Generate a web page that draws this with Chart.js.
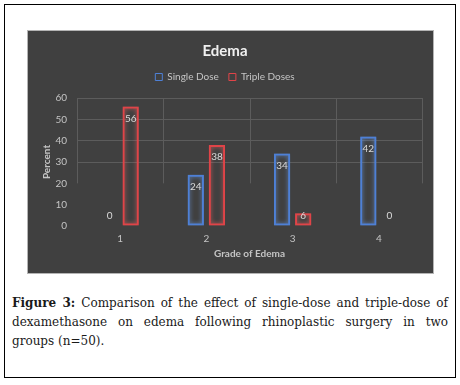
<!DOCTYPE html>
<html>
<head>
<meta charset="utf-8">
<script src="https://cdn.jsdelivr.net/npm/chart.js@4.4.1/dist/chart.umd.min.js"></script>
<style>
    html, body { margin: 0; padding: 0; background: #fff; }
    #frame {
        position: absolute; left: 4px; top: 4px;
        width: 452px; height: 374px;
        border: 1px solid #000; box-sizing: border-box;
    }
    #panel {
        position: absolute; left: 27px; top: 30px;
        width: 407px; height: 244px;
        background: #404040; border: 1px solid #b4b4b4; box-sizing: border-box;
    }
    #panel canvas { position: absolute; left: 0; top: 0; }
    #caption {
        position: absolute; left: 12px; top: 294px; width: 436px;
        font-family: "DejaVu Serif", serif; font-size: 12px; line-height: 19px; color: #1a1a1a;
    }
    #caption div { text-align: justify; text-align-last: justify; }
    #caption div.last { text-align-last: left; }
</style>
</head>
<body>
<div id="frame"></div>
<div id="panel"><canvas id="edema-chart" width="405" height="242"></canvas></div>
<div id="caption">
    <div><b>Figure 3:</b> Comparison of the effect of single-dose and triple-dose of</div>
    <div>dexamethasone on edema following rhinoplastic surgery in two</div>
    <div class="last">groups (n=50).</div>
</div>
<script>
// Chart data
const grades = ['1', '2', '3', '4'];
const singleDose = [0, 24, 34, 42];
const tripleDoses = [56, 38, 6, 0];
const yTicks = [0, 10, 20, 30, 40, 50, 60];

// Chart colors
const chartColors = {
    blue: 'rgb(78, 128, 214)',
    red: 'rgb(224, 68, 72)',
    text: '#c4c4c4',
    label: '#dadada',
    grid: '#5c5c5c'
};

const fontFamily = 'Lato, "Open Sans", sans-serif';

// Extra space under the legend so the plot starts lower
const legendGapPlugin = {
    id: 'legendGap',
    afterInit(chart) {
        const legend = chart.legend;
        if (!legend) return;
        const fit = legend.fit;
        legend.fit = function() {
            fit.call(this);
            this.height += 6;
        };
    }
};

// Soft glow around bars, like the Excel outline effect
const glowPlugin = {
    id: 'glow',
    beforeDatasetDraw(chart, args) {
        const ctx = chart.ctx;
        ctx.save();
        ctx.shadowColor = args.index === 0 ? 'rgba(110, 160, 240, 0.8)' : 'rgba(245, 100, 100, 0.8)';
        ctx.shadowBlur = 4;
    },
    afterDatasetDraw(chart) {
        chart.ctx.restore();
    }
};

// Vertical category dividers (only visible in the upper part of the plot)
const dividerPlugin = {
    id: 'dividers',
    beforeDatasetsDraw(chart) {
        const { ctx, chartArea, scales } = chart;
        const step = (chartArea.right - chartArea.left) / grades.length;
        const yEnd = scales.y.getPixelForValue(20);
        ctx.save();
        ctx.strokeStyle = chartColors.grid;
        ctx.lineWidth = 1;
        for (let i = 0; i <= grades.length; i++) {
            const x = Math.round(chartArea.left + i * step) + 0.5;
            ctx.beginPath();
            ctx.moveTo(x, chartArea.top);
            ctx.lineTo(x, yEnd);
            ctx.stroke();
        }
        ctx.restore();
    }
};

// Value labels at the inside end of each bar
const valueLabelPlugin = {
    id: 'valueLabels',
    afterDatasetsDraw(chart) {
        const ctx = chart.ctx;
        ctx.save();
        ctx.font = '10px ' + fontFamily;
        ctx.fillStyle = chartColors.label;
        ctx.textAlign = 'center';
        ctx.textBaseline = 'middle';
        chart.data.datasets.forEach((ds, di) => {
            chart.getDatasetMeta(di).data.forEach((bar, i) => {
                const y = Math.min(bar.y + 12, bar.base - 10);
                ctx.fillText(String(ds.data[i]), bar.x, y);
            });
        });
        ctx.restore();
    }
};

new Chart(document.getElementById('edema-chart').getContext('2d'), {
    type: 'bar',
    data: {
        labels: grades,
        datasets: [{
            label: 'Single Dose',
            data: singleDose,
            borderColor: chartColors.blue,
            backgroundColor: 'rgba(0, 0, 0, 0)',
            borderWidth: ctx => (ctx.raw === 0 ? 0 : 2),
            borderSkipped: false,
            categoryPercentage: 0.49,
            barPercentage: 0.77
        }, {
            label: 'Triple Doses',
            data: tripleDoses,
            borderColor: chartColors.red,
            backgroundColor: 'rgba(0, 0, 0, 0)',
            borderWidth: ctx => (ctx.raw === 0 ? 0 : 2),
            borderSkipped: false,
            categoryPercentage: 0.49,
            barPercentage: 0.77
        }]
    },
    options: {
        responsive: false,
        animation: false,
        layout: {
            padding: { left: 0, right: 11, top: 0, bottom: 0 }
        },
        plugins: {
            title: {
                display: true,
                text: 'Edema',
                color: '#f0f0f0',
                font: { family: fontFamily, size: 15, weight: 'bold' },
                padding: { top: 11, bottom: 2 }
            },
            legend: {
                display: true,
                labels: {
                    color: chartColors.text,
                    font: { family: fontFamily, size: 10 },
                    boxWidth: 7,
                    boxHeight: 7,
                    padding: 10,
                    generateLabels: chart => chart.data.datasets.map((ds, i) => ({
                        text: ds.label,
                        fillStyle: 'rgba(0, 0, 0, 0)',
                        strokeStyle: ds.borderColor,
                        lineWidth: 1,
                        fontColor: chartColors.text,
                        hidden: false,
                        datasetIndex: i
                    }))
                }
            },
            tooltip: { enabled: false }
        },
        scales: {
            x: {
                grid: { display: false, drawTicks: false },
                border: { display: false },
                ticks: {
                    color: chartColors.text,
                    font: { family: fontFamily, size: 10 },
                    padding: 7
                },
                title: {
                    display: true,
                    text: 'Grade of Edema',
                    color: chartColors.text,
                    font: { family: fontFamily, size: 10, weight: 'bold' },
                    padding: { top: 0, bottom: 13 }
                },
                afterFit: scale => { scale.height = 47; }
            },
            y: {
                min: 0,
                max: 60,
                afterBuildTicks: scale => {
                    scale.ticks = yTicks.map(v => ({ value: v }));
                },
                grid: {
                    drawTicks: false,
                    color: ctx => (ctx.tick && ctx.tick.value >= 30 ? chartColors.grid : 'rgba(0, 0, 0, 0)')
                },
                border: { display: false },
                ticks: {
                    color: chartColors.text,
                    font: { family: fontFamily, size: 10 },
                    padding: 10
                },
                title: {
                    display: true,
                    text: 'Percent',
                    color: chartColors.text,
                    font: { family: fontFamily, size: 10, weight: 'bold' },
                    padding: { top: 13, bottom: 0 }
                },
                afterFit: scale => { scale.width = 49; }
            }
        }
    },
    plugins: [legendGapPlugin, glowPlugin, dividerPlugin, valueLabelPlugin]
});
</script>
</body>
</html>
